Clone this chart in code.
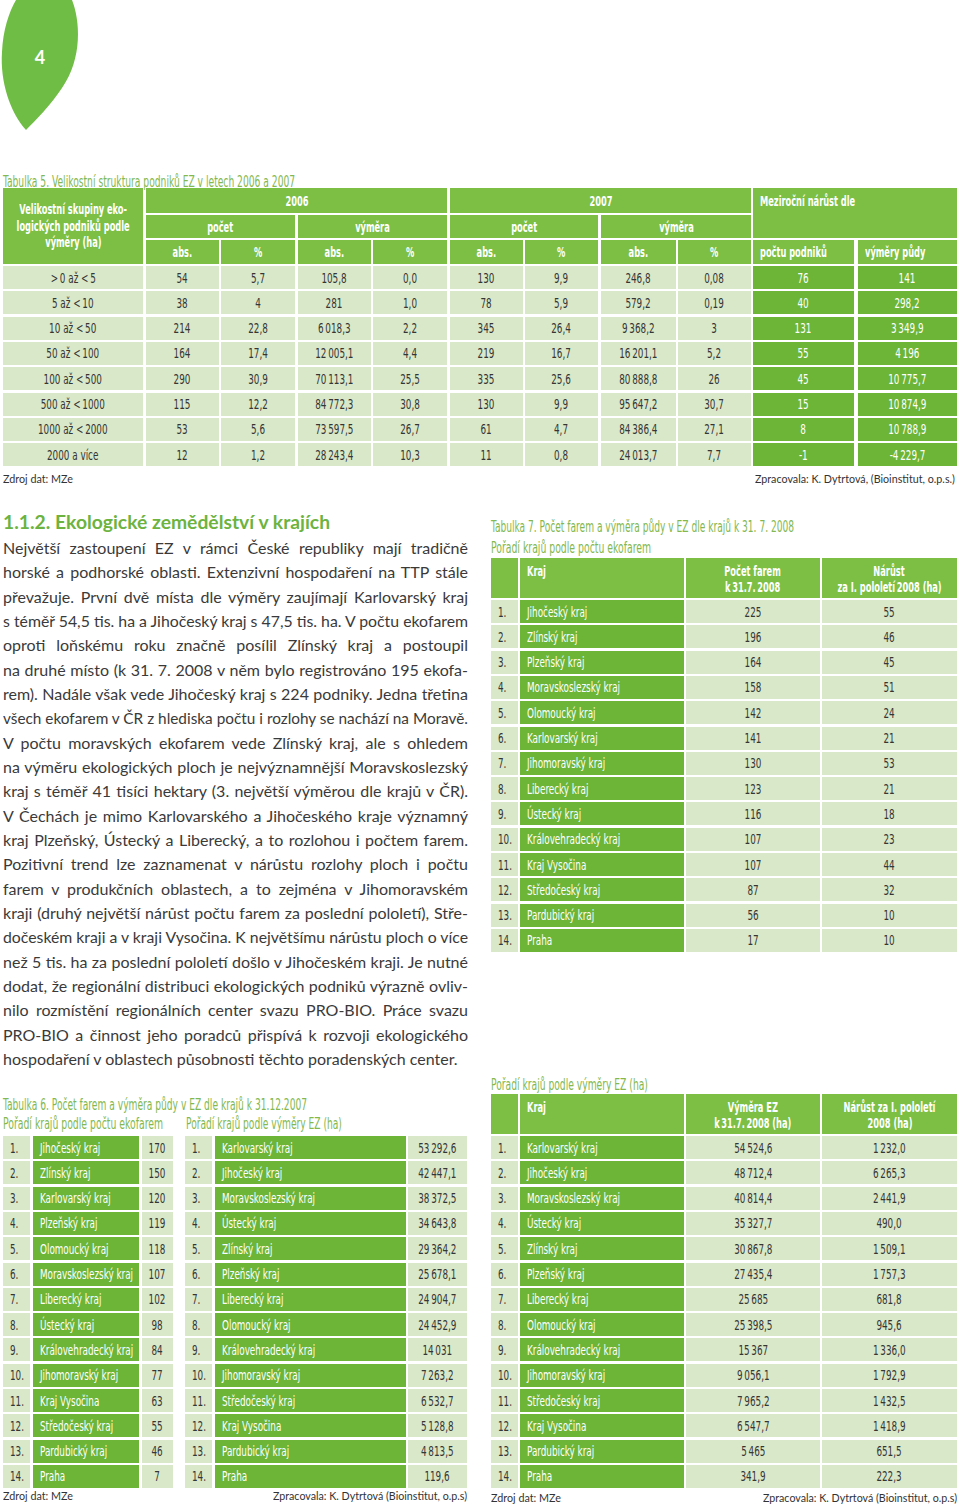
<!DOCTYPE html>
<html lang="cs">
<head>
<meta charset="utf-8">
<title>Ekologické zemědělství v krajích</title>
<script src="https://cdn.jsdelivr.net/npm/chart.js@4.4.1/dist/chart.umd.min.js"></script>
<style>
  html, body { margin: 0; padding: 0; background: #fff; }
  #page { position: relative; width: 960px; height: 1506px; overflow: hidden; }
  .box { position: absolute; box-sizing: border-box; display: flex; align-items: center; justify-content: center; text-align: center;
         font-family: "Liberation Sans Narrow", "DejaVu Sans Condensed", sans-serif; font-size: 14px; line-height: 16px; }
  .box .in { width: 100%; }
  .box .in > div { display: flex; justify-content: center; }
  .box span { display: inline-block; transform: scaleX(0.7); white-space: nowrap; flex: none; }
  .hd { background: #7cbf44; color: #fff; font-weight: bold; font-size: 13.5px; }
  .hd span { transform: scaleX(0.68); }
  .dk { background: #6cb536; color: #fff; }
  .lt { background: #d9e8c8; color: #353535; }
  .left { justify-content: flex-start; text-align: left; padding-left: 7px; }
  .left .in > div { justify-content: flex-start; }
  .left span { transform-origin: left center; }
  .top { align-items: flex-start; padding-top: 5px; }
  .txt { position: absolute; white-space: nowrap; transform-origin: left center; }
  .cap { font-family: "Liberation Sans Narrow", "DejaVu Sans Condensed", sans-serif; font-size: 15px; line-height: 16px; color: #82b84f; }
  .src { font-family: Lato, "Open Sans", sans-serif; font-size: 12px; line-height: 14px; color: #333; }
  .head { font-family: Lato, "Open Sans", sans-serif; font-size: 19px; line-height: 22px; font-weight: bold; color: #6cb33f; }
  .line { position: absolute; left: 3px; font-family: Lato, "Open Sans", sans-serif; font-size: 16px; line-height: 24px; color: #3a3a3a;
          white-space: nowrap; text-align: justify; text-align-last: justify; transform-origin: left center; }
</style>
</head>
<body>
<div id="page">
  <svg style="position:absolute;left:0;top:0" width="90" height="135">
    <path d="M16,0 L72,0 C80,20 83,58 62,88 C50,106 36,120 26,130 C10,112 0,82 2,52 C3,30 9,12 16,0 Z" fill="#70bd45"/>
    <text x="40" y="64" fill="#fff" font-family="Lato, sans-serif" font-weight="bold" font-size="18" text-anchor="middle">4</text>
  </svg>
</div>
<script>
// Tabulka 5
const sizeGroups = ["> 0 až < 5", "5 až < 10", "10 až < 50", "50 až < 100", "100 až < 500", "500 až < 1000", "1000 až < 2000", "2000 a více"];
const count2006 = ["54", "38", "214", "164", "290", "115", "53", "12"];
const pct2006 = ["5,7", "4", "22,8", "17,4", "30,9", "12,2", "5,6", "1,2"];
const area2006 = ["105,8", "281", "6 018,3", "12 005,1", "70 113,1", "84 772,3", "73 597,5", "28 243,4"];
const areaPct2006 = ["0,0", "1,0", "2,2", "4,4", "25,5", "30,8", "26,7", "10,3"];
const count2007 = ["130", "78", "345", "219", "335", "130", "61", "11"];
const pct2007 = ["9,9", "5,9", "26,4", "16,7", "25,6", "9,9", "4,7", "0,8"];
const area2007 = ["246,8", "579,2", "9 368,2", "16 201,1", "80 888,8", "95 647,2", "84 386,4", "24 013,7"];
const areaPct2007 = ["0,08", "0,19", "3", "5,2", "26", "30,7", "27,1", "7,7"];
const growthCount = ["76", "40", "131", "55", "45", "15", "8", "-1"];
const growthArea = ["141", "298,2", "3 349,9", "4 196", "10 775,7", "10 874,9", "10 788,9", "-4 229,7"];

// Tabulka 6
const t6CountRegions = ["Jihočeský kraj", "Zlínský kraj", "Karlovarský kraj", "Plzeňský kraj", "Olomoucký kraj", "Moravskoslezský kraj", "Liberecký kraj", "Ústecký kraj", "Královehradecký kraj", "Jihomoravský kraj", "Kraj Vysočina", "Středočeský kraj", "Pardubický kraj", "Praha"];
const t6Counts = ["170", "150", "120", "119", "118", "107", "102", "98", "84", "77", "63", "55", "46", "7"];
const t6AreaRegions = ["Karlovarský kraj", "Jihočeský kraj", "Moravskoslezský kraj", "Ústecký kraj", "Zlínský kraj", "Plzeňský kraj", "Liberecký kraj", "Olomoucký kraj", "Královehradecký kraj", "Jihomoravský kraj", "Středočeský kraj", "Kraj Vysočina", "Pardubický kraj", "Praha"];
const t6Areas = ["53 292,6", "42 447,1", "38 372,5", "34 643,8", "29 364,2", "25 678,1", "24 904,7", "24 452,9", "14 031", "7 263,2", "6 532,7", "5 128,8", "4 813,5", "119,6"];

// Tabulka 7
const t7CountRegions = ["Jihočeský kraj", "Zlínský kraj", "Plzeňský kraj", "Moravskoslezský kraj", "Olomoucký kraj", "Karlovarský kraj", "Jihomoravský kraj", "Liberecký kraj", "Ústecký kraj", "Královehradecký kraj", "Kraj Vysočina", "Středočeský kraj", "Pardubický kraj", "Praha"];
const t7Counts = ["225", "196", "164", "158", "142", "141", "130", "123", "116", "107", "107", "87", "56", "17"];
const t7CountGrowth = ["55", "46", "45", "51", "24", "21", "53", "21", "18", "23", "44", "32", "10", "10"];
const t7AreaRegions = ["Karlovarský kraj", "Jihočeský kraj", "Moravskoslezský kraj", "Ústecký kraj", "Zlínský kraj", "Plzeňský kraj", "Liberecký kraj", "Olomoucký kraj", "Královehradecký kraj", "Jihomoravský kraj", "Středočeský kraj", "Kraj Vysočina", "Pardubický kraj", "Praha"];
const t7Areas = ["54 524,6", "48 712,4", "40 814,4", "35 327,7", "30 867,8", "27 435,4", "25 685", "25 398,5", "15 367", "9 056,1", "7 965,2", "6 547,7", "5 465", "341,9"];
const t7AreaGrowth = ["1 232,0", "6 265,3", "2 441,9", "490,0", "1 509,1", "1 757,3", "681,8", "945,6", "1 336,0", "1 792,9", "1 432,5", "1 418,9", "651,5", "222,3"];

const bodyLines = [
  "Největší zastoupení EZ v rámci České republiky mají tradičně",
  "horské a podhorské oblasti. Extenzivní hospodaření na TTP stále",
  "převažuje. První dvě místa dle výměry zaujímají Karlovarský kraj",
  "s téměř 54,5 tis. ha a Jihočeský kraj s 47,5 tis. ha. V počtu ekofarem",
  "oproti loňskému roku značně posílil Zlínský kraj a postoupil",
  "na druhé místo (k 31. 7. 2008 v něm bylo registrováno 195 ekofa-",
  "rem). Nadále však vede Jihočeský kraj s 224 podniky. Jedna třetina",
  "všech ekofarem v ČR z hlediska počtu i rozlohy se nachází na Moravě.",
  "V počtu moravských ekofarem vede Zlínský kraj, ale s ohledem",
  "na výměru ekologických ploch je nejvýznamnější Moravskoslezský",
  "kraj s téměř 41 tisíci hektary (3. největší výměrou dle krajů v ČR).",
  "V Čechách je mimo Karlovarského a Jihočeského kraje významný",
  "kraj Plzeňský, Ústecký a Liberecký, a to rozlohou i počtem farem.",
  "Pozitivní trend lze zaznamenat v nárůstu rozlohy ploch i počtu",
  "farem v produkčních oblastech, a to zejména v Jihomoravském",
  "kraji (druhý největší nárůst počtu farem za poslední pololetí), Stře-",
  "dočeském kraji a v kraji Vysočina. K největšímu nárůstu ploch o více",
  "než 5 tis. ha za poslední pololetí došlo v Jihočeském kraji. Je nutné",
  "dodat, že regionální distribuci ekologických podniků výrazně ovliv-",
  "nilo rozmístění regionálních center svazu PRO-BIO. Práce svazu",
  "PRO-BIO a činnost jeho poradců přispívá k rozvoji ekologického",
  "hospodaření v oblastech působnosti těchto poradenských center."
];

const page = document.getElementById("page");
const esc = s => String(s).replace(/&/g, "&amp;").replace(/</g, "&lt;").replace(/>/g, "&gt;").replace(/ (?=\d)/g, "\u2009");

function cell(x, y, w, h, cls, text, lh) {
  const d = document.createElement("div");
  d.className = "box " + cls;
  d.style.cssText = `left:${x}px;top:${y}px;width:${w}px;height:${h}px` + (lh ? `;line-height:${lh}px` : "");
  if (text) d.innerHTML = '<div class="in">' + text.split("\n").map(t => "<div><span>" + esc(t) + "</span></div>").join("") + "</div>";
  page.appendChild(d);
  return d;
}

// text squeezed/stretched to the width it takes in the page
function label(text, x, cy, w, cls, alignRight) {
  const d = document.createElement("div");
  d.className = "txt " + cls;
  d.textContent = text;
  page.appendChild(d);
  const nat = d.offsetWidth, hh = d.offsetHeight;
  d.style.top = (cy - hh / 2) + "px";
  d.style.left = (alignRight ? x - w : x) + "px";
  d.style.transform = `scaleX(${w / nat})`;
  return d;
}

// ---- Tabulka 5 ----
label("Tabulka 5. Velikostní struktura podniků EZ v letech 2006 a 2007", 3, 182, 292, "cap");
const c5 = [[3, 140], [146, 73], [221, 74], [298, 73], [373, 74], [450, 73], [525, 73], [601, 75], [678, 73], [753, 101], [858, 99]];
cell(3, 188, 140, 76, "hd", "Velikostní skupiny eko-\nlogických podniků podle\nvýměry  (ha)", 16.5);
cell(146, 188, 301, 25, "hd", "2006");
cell(450, 188, 301, 25, "hd", "2007");
cell(753, 188, 204, 50, "hd left top", "Meziroční nárůst dle");
cell(146, 215, 149, 23, "hd", "počet");
cell(298, 215, 149, 23, "hd", "výměra");
cell(450, 215, 148, 23, "hd", "počet");
cell(601, 215, 150, 23, "hd", "výměra");
["abs.", "%", "abs.", "%", "abs.", "%", "abs.", "%"].forEach((t, i) => cell(c5[i + 1][0], 240, c5[i + 1][1], 24, "hd", t));
cell(753, 240, 101, 24, "hd left", "počtu podniků");
cell(858, 240, 99, 24, "hd left", "výměry půdy");
const cols5 = [sizeGroups, count2006, pct2006, area2006, areaPct2006, count2007, pct2007, area2007, areaPct2007, growthCount, growthArea];
sizeGroups.forEach((g, r) => {
  const y = 266 + r * 25.3;
  cols5.forEach((col, c) => cell(c5[c][0], y, c5[c][1], 23, c >= 9 ? "dk" : "lt", col[r]));
});
label("Zdroj dat: MZe", 3, 479, 70, "src");
label("Zpracovala: K. Dytrtová, (Bioinstitut, o.p.s.)", 955, 479, 200, "src", true);

// ---- text ----
label("1.1.2. Ekologické zemědělství v krajích", 3, 522, 327, "head");
bodyLines.forEach((t, i) => {
  const d = document.createElement("div");
  d.className = "line";
  d.textContent = t;
  d.style.top = (536 + i * 24.33) + "px";
  page.appendChild(d);
  const nat = d.offsetWidth;
  if (nat > 465) { d.style.width = nat + "px"; d.style.transform = `scaleX(${465 / nat})`; }
  else { d.style.width = "465px"; }
  if (i === bodyLines.length - 1) d.style.textAlignLast = "left";
});

// ---- Tabulka 7 ----
label("Tabulka 7. Počet farem a výměra půdy v EZ dle krajů k 31. 7. 2008", 491, 527, 303, "cap");
label("Pořadí krajů podle počtu ekofarem", 491, 548, 160, "cap");
const c7 = [[491, 27], [520, 164], [686, 134], [822, 135]];
function table7(top, heads, regions, vals, growth) {
  cell(c7[0][0], top, c7[0][1], 40, "hd", "");
  cell(c7[1][0], top, c7[1][1], 40, "hd left top", "Kraj");
  cell(c7[2][0], top, c7[2][1], 40, "hd top", heads[0]);
  cell(c7[3][0], top, c7[3][1], 40, "hd top", heads[1]);
  regions.forEach((reg, r) => {
    const y = top + 42 + r * 25.3;
    cell(c7[0][0], y, c7[0][1], 23, "lt left", (r + 1) + ".");
    cell(c7[1][0], y, c7[1][1], 23, "dk left", reg);
    cell(c7[2][0], y, c7[2][1], 23, "lt", vals[r]);
    cell(c7[3][0], y, c7[3][1], 23, "lt", growth[r]);
  });
}
table7(558, ["Počet farem\nk 31.7. 2008", "Nárůst\nza I. pololetí 2008 (ha)"], t7CountRegions, t7Counts, t7CountGrowth);
label("Pořadí krajů podle výměry EZ (ha)", 491, 1085, 157, "cap");
table7(1094, ["Výměra EZ\nk 31.7. 2008 (ha)", "Nárůst za I. pololetí\n2008 (ha)"], t7AreaRegions, t7Areas, t7AreaGrowth);
label("Zdroj dat: MZe", 491, 1498, 70, "src");
label("Zpracovala: K. Dytrtová (Bioinstitut, o.p.s)", 957, 1498, 194, "src", true);

// ---- Tabulka 6 ----
label("Tabulka 6. Počet farem a výměra půdy v EZ dle krajů k 31.12.2007", 3, 1105, 304, "cap");
label("Pořadí krajů podle počtu ekofarem", 3, 1124, 160, "cap");
label("Pořadí krajů podle výměry EZ (ha)", 186, 1124, 156, "cap");
t6CountRegions.forEach((reg, r) => {
  const y = 1136 + r * 25.3;
  cell(3, y, 27, 23, "lt left", (r + 1) + ".");
  cell(33, y, 106, 23, "dk left", reg);
  cell(142, y, 31, 23, "lt", t6Counts[r]);
  cell(185, y, 27, 23, "lt left", (r + 1) + ".");
  cell(215, y, 191, 23, "dk left", t6AreaRegions[r]);
  cell(408, y, 59, 23, "lt", t6Areas[r]);
});
label("Zdroj dat: MZe", 3, 1496, 70, "src");
label("Zpracovala: K. Dytrtová (Bioinstitut, o.p.s)", 467, 1496, 194, "src", true);
</script>
</body>
</html>
